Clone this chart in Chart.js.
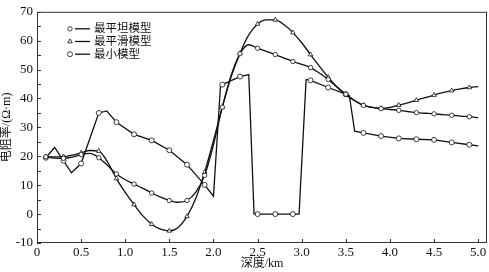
<!DOCTYPE html>
<html>
<head>
<meta charset="utf-8">
<script src="https://cdn.jsdelivr.net/npm/chart.js@4.4.1/dist/chart.umd.min.js"></script>
<style>
  html, body { margin: 0; padding: 0; background: #fff; }
  canvas { display: block; }
</style>
</head>
<body>
<canvas id="chart" width="489" height="272"></canvas>
<script>
// depth grid (km) for the two smooth models
const depth = [0.1, 0.2, 0.3, 0.4, 0.5, 0.6, 0.7, 0.8, 0.9, 1.0,
               1.1, 1.2, 1.3, 1.4, 1.5, 1.6, 1.7, 1.8, 1.9, 2.0,
               2.1, 2.2, 2.3, 2.4, 2.5, 2.6, 2.7, 2.8, 2.9, 3.0,
               3.1, 3.2, 3.3, 3.4, 3.5, 3.6, 3.7, 3.8, 3.9, 4.0,
               4.1, 4.2, 4.3, 4.4, 4.5, 4.6, 4.7, 4.8, 4.9, 5.0];

// 最平坦模型
const flatModel = [19.8, 19.4, 19.3, 19.7, 20.6, 21.0, 19.5, 16.8, 13.9, 11.9,
                   10.4, 8.9, 7.3, 5.9, 4.7, 4.1, 4.7, 7.6, 13.4, 24.0,
                   37.0, 48.0, 55.5, 58.6, 57.4, 56.3, 55.2, 54.0, 52.8, 51.8,
                   50.7, 48.8, 46.6, 44.0, 41.5, 39.3, 37.6, 36.9, 36.5, 36.2,
                   35.9, 35.5, 35.1, 34.9, 34.7, 34.4, 34.2, 33.9, 33.7, 33.4];

// 最平滑模型
const smoothModel = [19.8, 19.8, 19.9, 20.4, 21.2, 22.0, 21.8, 18.0, 12.3, 7.5,
                     3.3, -0.6, -3.5, -5.2, -5.8, -4.6, -0.8, 5.5, 14.5, 25.5,
                     37.0, 47.5, 55.6, 62.0, 65.8, 67.2, 67.2, 65.5, 62.8, 59.3,
                     55.2, 51.2, 47.4, 44.0, 41.3, 39.2, 37.7, 36.9, 36.6, 36.9,
                     37.7, 38.5, 39.4, 40.3, 41.2, 42.0, 42.7, 43.3, 43.8, 44.1];

// 最小模型 (piecewise, its own depths)
const minDepth = [0.1, 0.2, 0.3, 0.39, 0.5, 0.7, 0.79, 0.9, 1.1, 1.3,
                  1.5, 1.7, 1.9, 2.0, 2.08, 2.1, 2.3, 2.4, 2.46, 2.5,
                  2.7, 2.9, 2.97, 3.05, 3.1, 3.3, 3.5, 3.54, 3.6, 3.7,
                  3.9, 4.1, 4.3, 4.5, 4.7, 4.9, 5.0];
const minModel = [19.5, 23.1, 18.5, 14.3, 17.5, 35.0, 35.7, 31.8, 27.6, 25.5,
                  22.1, 17.1, 10.1, 6.2, 44.5, 44.8, 47.6, 48.3, 0, 0,
                  0, 0, 0, 46.6, 46.3, 43.8, 41.5, 41.0, 28.7, 28.1,
                  27.0, 26.2, 25.9, 25.7, 24.8, 24.0, 23.6];

const labels = ['最平坦模型', '最平滑模型', '最小模型'];
const xTicks = [0, 0.5, 1.0, 1.5, 2.0, 2.5, 3.0, 3.5, 4.0, 4.5, 5.0];
const yTicks = [-10, -5, 0, 5, 10, 15, 20, 25, 30, 35, 40, 45, 50, 55, 60, 65, 70];

const serif = "'Liberation Serif', 'Noto Sans CJK SC', serif";

function pts(xs, ys) {
  return xs.map((x, i) => ({x: x, y: ys[i]}));
}

// markers only at 0.1, 0.3, 0.5 ... km
function markerAt(r) {
  return function (c) {
    const k = c.raw.x * 10;
    const n = Math.round(k);
    return (Math.abs(k - n) < 1e-6 && n % 2 === 1) ? r : 0;
  };
}

const frame = {
  id: 'frame',
  afterDraw(chart) {
    const {ctx, chartArea: a, scales: {x, y}} = chart;
    ctx.save();
    ctx.strokeStyle = '#333';
    ctx.lineWidth = 1;
    ctx.strokeRect(a.left + 0.5, a.top + 0.5, a.right - a.left - 1, a.bottom - a.top - 1);
    ctx.beginPath();
    xTicks.forEach(v => {
      const px = Math.round(x.getPixelForValue(v)) + 0.5;
      ctx.moveTo(px, a.bottom);
      ctx.lineTo(px, a.bottom - 4);
    });
    yTicks.forEach(v => {
      const py = Math.round(y.getPixelForValue(v)) + 0.5;
      ctx.moveTo(a.left, py);
      ctx.lineTo(a.left + 4, py);
    });
    ctx.stroke();

    // legend inside the plot, top left
    ctx.font = '11.5px ' + serif;
    ctx.textBaseline = 'middle';
    chart.data.datasets.forEach((ds, i) => {
      const ly = a.top + 17 + i * 12.7;
      ctx.beginPath();
      ctx.strokeStyle = '#111';
      ctx.lineWidth = 1.3;
      ctx.moveTo(a.left + 38, ly);
      ctx.lineTo(a.left + 53, ly);
      ctx.stroke();
      ctx.fillStyle = '#fff';
      ctx.strokeStyle = '#111';
      ctx.lineWidth = 0.8;
      Chart.helpers.drawPoint(ctx, {
        pointStyle: ds.pointStyle, radius: ds.legendRadius, borderWidth: 0.8
      }, a.left + 33, ly);
      ctx.fillStyle = '#111';
      ctx.fillText(ds.label, a.left + 57, ly + 0.5);
    });
    ctx.restore();
  }
};

function lineSet(label, data, style, r, smooth) {
  return {
    label: label,
    data: data,
    borderColor: '#111',
    borderWidth: 1.3,
    pointStyle: style,
    pointRadius: markerAt(r),
    pointHoverRadius: 0,
    pointBackgroundColor: '#fff',
    pointBorderColor: '#111',
    pointBorderWidth: 0.8,
    legendRadius: r,
    fill: false,
    tension: smooth ? 0.4 : 0,
    cubicInterpolationMode: smooth ? 'monotone' : 'default'
  };
}

new Chart(document.getElementById('chart'), {
  type: 'line',
  data: {
    datasets: [
      lineSet(labels[0], pts(depth, flatModel), 'circle', 2.2, true),
      lineSet(labels[1], pts(depth, smoothModel), 'triangle', 2.6, true),
      lineSet(labels[2], pts(minDepth, minModel), 'circle', 2.5, false)
    ]
  },
  options: {
    responsive: false,
    animation: false,
    layout: {autoPadding: false, padding: {top: 4, right: 2, left: 0, bottom: 0}},
    plugins: {legend: {display: false}, tooltip: {enabled: false}},
    scales: {
      x: {
        type: 'linear',
        min: 0,
        max: 5.1,
        grid: {display: false, drawTicks: false},
        border: {display: false},
        afterBuildTicks: s => { s.ticks = xTicks.map(v => ({value: v})); },
        afterFit: s => { s.height = 29; },
        ticks: {
          color: '#111',
          padding: 2,
          maxRotation: 0,
          font: {family: serif, size: 13},
          callback: v => v === 0 ? '0' : v.toFixed(1)
        },
        title: {
          display: true,
          text: '深度/km',
          color: '#111',
          padding: {top: 0, bottom: 1},
          font: {family: serif, size: 12}
        }
      },
      y: {
        min: -10,
        max: 70,
        grid: {display: false, drawTicks: false},
        border: {display: false},
        afterBuildTicks: s => { s.ticks = yTicks.map(v => ({value: v})); },
        afterFit: s => { s.width = 37; },
        ticks: {
          color: '#111',
          padding: 4,
          font: {family: serif, size: 13}
        },
        title: {
          display: true,
          text: '电阻率/(Ω·m)',
          color: '#111',
          padding: {top: 0, bottom: 0},
          font: {family: serif, size: 12}
        }
      }
    }
  },
  plugins: [frame]
});
</script>
</body>
</html>
